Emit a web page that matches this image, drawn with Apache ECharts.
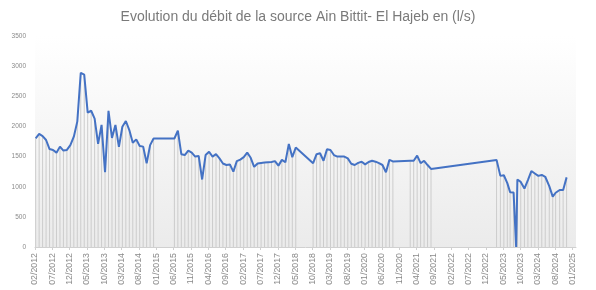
<!DOCTYPE html>
<html><head><meta charset="utf-8">
<script src="https://cdn.jsdelivr.net/npm/echarts@6/dist/echarts.min.js"></script>
<style>html,body{margin:0;padding:0;background:#fff}#c{width:596px;height:290px}</style>
</head><body><div id="c"></div>
<script>
const tickLabels = ['02/2012','07/2012','12/2012','05/2013','10/2013','03/2014','08/2014','01/2015','06/2015','11/2015','04/2016','09/2016','02/2017','07/2017','12/2017','05/2018','10/2018','03/2019','08/2019','01/2020','06/2020','11/2020','04/2021','09/2021','02/2022','07/2022','12/2022','05/2023','10/2023','03/2024','08/2024','01/2025'];
const dates = [
'2012-02-07','2012-03-07','2012-04-07','2012-05-07','2012-06-07','2012-07-07','2012-08-07','2012-09-07','2012-10-07','2012-11-07','2012-12-07',
'2013-01-07','2013-02-07','2013-03-07','2013-04-07','2013-05-07','2013-06-07','2013-07-07','2013-08-07','2013-09-07','2013-10-07','2013-11-07','2013-12-07',
'2014-01-07','2014-02-07','2014-03-07','2014-04-07','2014-05-07','2014-06-07','2014-07-07','2014-08-07','2014-09-07','2014-10-07','2014-11-07','2014-12-07',
'2015-06-07','2015-07-07','2015-08-07','2015-09-07','2015-10-07','2015-11-07','2015-12-07',
'2016-01-07','2016-02-07','2016-03-07','2016-04-07','2016-05-07','2016-06-07','2016-07-07','2016-08-07','2016-09-07','2016-10-07','2016-11-07','2016-12-07',
'2017-01-07','2017-02-07','2017-03-07','2017-04-07','2017-05-07','2017-06-07','2017-07-07','2017-08-07','2017-09-07','2017-10-07','2017-11-07','2017-12-07',
'2018-01-07','2018-02-07','2018-03-07','2018-04-07','2018-05-07','2018-10-07','2018-11-07','2018-12-07',
'2019-01-07','2019-02-07','2019-03-07','2019-04-07','2019-05-07','2019-06-07','2019-07-07','2019-08-07','2019-09-07','2019-10-07','2019-11-07','2019-12-07',
'2020-01-07','2020-02-07','2020-03-07','2020-04-07','2020-05-07','2020-06-07','2020-07-07','2020-08-07','2020-09-07',
'2021-02-07','2021-03-07','2021-04-07','2021-05-07','2021-06-07','2021-07-07','2021-08-07',
'2023-03-04','2023-04-07','2023-05-07','2023-06-07','2023-07-01','2023-08-01','2023-08-24','2023-09-04','2023-10-03','2023-11-05','2023-12-05',
'2024-01-05','2024-02-05','2024-03-05','2024-04-05','2024-05-05','2024-06-10','2024-07-10','2024-08-05','2024-09-10','2024-10-10','2024-11-10'
];
const flow = [
1803,1875,1840,1775,1625,1610,1565,1665,1600,1610,1690,
1830,2080,2890,2860,2230,2260,2130,1710,2025,1240,2260,1810,
2025,1660,1995,2090,1940,1730,1785,1675,1665,1390,1690,1800,
1800,1930,1540,1525,1600,1565,1500,
1510,1120,1525,1580,1500,1540,1470,1385,1360,1370,1250,1425,
1450,1490,1565,1480,1330,1385,1395,1400,1405,1410,1425,1350,
1445,1405,1710,1490,1650,1390,1540,1555,
1430,1620,1610,1525,1500,1500,1500,1470,1380,1360,1395,1415,
1370,1410,1430,1415,1390,1360,1240,1445,1420,
1430,1430,1515,1390,1430,1360,1295,
1445,1180,1190,1060,910,905,0,1120,1080,970,1110,
1260,1220,1180,1195,1165,1010,835,900,945,945,1155
];
const yTicks = [0,500,1000,1500,2000,2500,3000,3500];

function monthIndex(s){const p=s.split('-').map(Number);return (p[0]-2012)*12+(p[1]-2)+(p[2]-1)/31;}
const pts = dates.map((d,i)=>[monthIndex(d),flow[i]]);

const chart = echarts.init(document.getElementById('c'),null,{renderer:'canvas'});
chart.setOption({
  animation:false,
  title:{text:'Evolution du débit de la source Ain Bittit- El Hajeb en (l/s)',left:'center',top:5,
    textStyle:{fontFamily:'Liberation Sans',fontSize:14,fontWeight:'normal',color:'#7a7a7a'}},
  grid:{left:35,right:20,top:36,bottom:43,show:true,borderWidth:0,
    backgroundColor:new echarts.graphic.LinearGradient(0,0,0,1,[{offset:0,color:'#ffffff'},{offset:1,color:'#ebebeb'}])},
  xAxis:{type:'value',min:0,max:156,interval:5,
    axisLine:{lineStyle:{color:'#d0d0d0'}},
    axisTick:{show:true,length:3,lineStyle:{color:'#d0d0d0'}},
    splitLine:{show:false},
    axisLabel:{rotate:90,fontSize:8.8,color:'#8a8a8a',fontFamily:'Liberation Sans',margin:6,
      showMaxLabel:false,
      formatter:v=>{const i=Math.round(v/5);return (Math.abs(v-i*5)<1e-6&&tickLabels[i])?tickLabels[i]:'';}}},
  yAxis:{type:'value',min:yTicks[0],max:yTicks[yTicks.length-1],interval:500,
    axisLine:{show:false},axisTick:{show:false},splitLine:{show:false},
    axisLabel:{fontSize:6.5,color:'#8a8a8a',fontFamily:'Liberation Sans',margin:9,formatter:v=>String(v)}},
  series:[
    {type:'bar',data:pts,barWidth:1,itemStyle:{color:'#cccccc'},z:1,silent:true},
    {type:'line',data:pts,showSymbol:false,lineStyle:{color:'#4472c4',width:2},itemStyle:{color:'#4472c4'},z:3}
  ]
});
</script></body></html>
